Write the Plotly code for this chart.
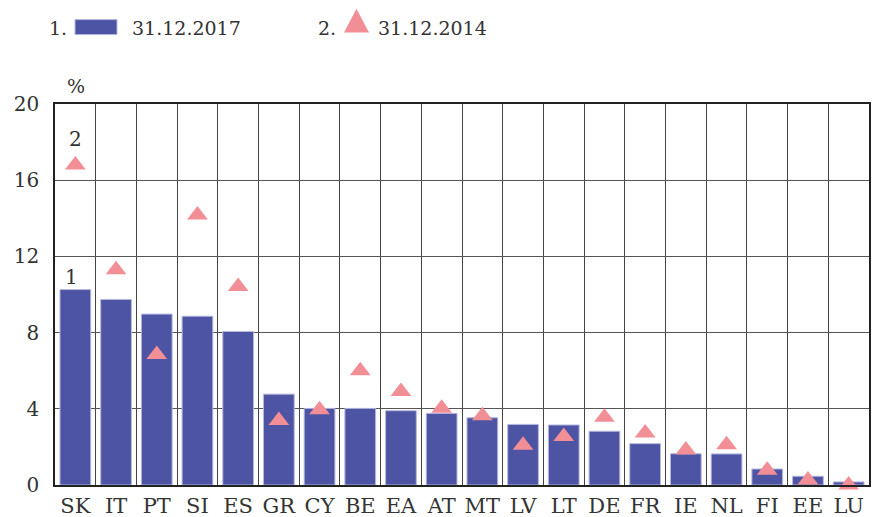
import plotly.graph_objects as go

# country codes and ratios (%)
countries = ['SK', 'IT', 'PT', 'SI', 'ES', 'GR', 'CY', 'BE', 'EA', 'AT',
             'MT', 'LV', 'LT', 'DE', 'FR', 'IE', 'NL', 'FI', 'EE', 'LU']
val_2017 = [10.26, 9.74, 8.97, 8.86, 8.06, 4.77, 4.02, 4.02, 3.9, 3.76,
            3.53, 3.18, 3.15, 2.82, 2.17, 1.64, 1.63, 0.84, 0.46, 0.16]
val_2014 = [16.8, 11.3, 6.85, 14.17, 10.42, 3.38, 3.95, 6.0, 4.91, 4.03,
            3.64, 2.09, 2.54, 3.55, 2.73, 1.84, 2.11, 0.78, 0.26, 0.0]
y_ticks = [0, 4, 8, 12, 16, 20]
legend_names = ['31.12.2017', '31.12.2014']

BAR = '#4d54a4'
TRI = '#f28e96'
TXT = '#333333'
FONT = 'DejaVu Serif'

W, H = 873, 517
L, R, T, B = 55, 4, 103.5, 32


def px(x):
    return (x - L) / (W - L - R)


def py(y):
    return (H - B - y) / (H - T - B)


fig = go.Figure()
fig.add_trace(go.Bar(x=countries, y=val_2017, marker=dict(color=BAR, line=dict(color='#b4b7de', width=1)),
                     name=legend_names[0], showlegend=False))
fig.add_trace(go.Scatter(x=countries, y=val_2014, mode='markers', cliponaxis=False,
                         marker=dict(symbol='triangle-up', size=18, color=TRI),
                         name=legend_names[1], showlegend=False))

# labels "1" and "2" over SK
fig.add_annotation(x=countries[0], y=val_2017[0], text='1', showarrow=False, yanchor='bottom', yshift=-1,
                   xshift=-4, font=dict(size=20, color=TXT, family=FONT))
fig.add_annotation(x=countries[0], y=val_2014[0], text='2', showarrow=False, yanchor='bottom', yshift=12,
                   font=dict(size=20, color=TXT, family=FONT))

# % label
fig.add_annotation(x=px(65), y=py(85), xref='paper', yref='paper', text='%', showarrow=False,
                   yanchor='middle', font=dict(size=19, color=TXT, family=FONT))

# manual legend
lf = dict(size=19, color=TXT, family=FONT)
fig.add_annotation(x=px(47), y=py(27), xref='paper', yref='paper', text='1.', showarrow=False,
                   xanchor='left', yanchor='middle', font=lf)
fig.add_shape(type='rect', xref='paper', yref='paper', x0=px(75), x1=px(117), y0=py(34), y1=py(19),
              fillcolor=BAR, line=dict(color='#b4b7de', width=1))
fig.add_annotation(x=px(130), y=py(27), xref='paper', yref='paper', text=legend_names[0], showarrow=False,
                   xanchor='left', yanchor='middle', font=lf)
fig.add_annotation(x=px(316), y=py(27), xref='paper', yref='paper', text='2.', showarrow=False,
                   xanchor='left', yanchor='middle', font=lf)
fig.add_shape(type='path', xref='paper', yref='paper',
              path='M %f %f L %f %f L %f %f Z' % (px(344), py(32), px(369), py(32), px(356.5), py(8)),
              fillcolor=TRI, line=dict(width=0))
fig.add_annotation(x=px(376), y=py(27), xref='paper', yref='paper', text=legend_names[1], showarrow=False,
                   xanchor='left', yanchor='middle', font=lf)

fig.update_layout(
    width=W, height=H,
    margin=dict(l=L, r=R, t=T, b=B, pad=0),
    plot_bgcolor='white', paper_bgcolor='white',
    bargap=0.245,
    font=dict(family=FONT, size=19, color=TXT),
)
fig.update_xaxes(type='category', range=[-0.5, len(countries) - 0.5], tickson='boundaries',
                 showgrid=True, gridcolor='#444444', gridwidth=1,
                 ticks='', showline=True, linecolor='#222222', linewidth=2, mirror=True,
                 tickangle=0, automargin=False, ticklabelstandoff=1,
                 tickfont=dict(size=21, color=TXT, family=FONT))
fig.update_yaxes(range=[0, 20], tickvals=y_ticks, showgrid=True, gridcolor='#555555', gridwidth=1,
                 ticks='', showline=True, linecolor='#222222', linewidth=1.5, mirror=True, zeroline=False,
                 automargin=False,
                 tickfont=dict(size=20, color=TXT, family=FONT), ticklabelstandoff=10)

# drop the default page margin so the figure sits at the window corner
fig.write_html("out.html", config={'displayModeBar': False},
               post_script="document.body.style.margin='0';")
